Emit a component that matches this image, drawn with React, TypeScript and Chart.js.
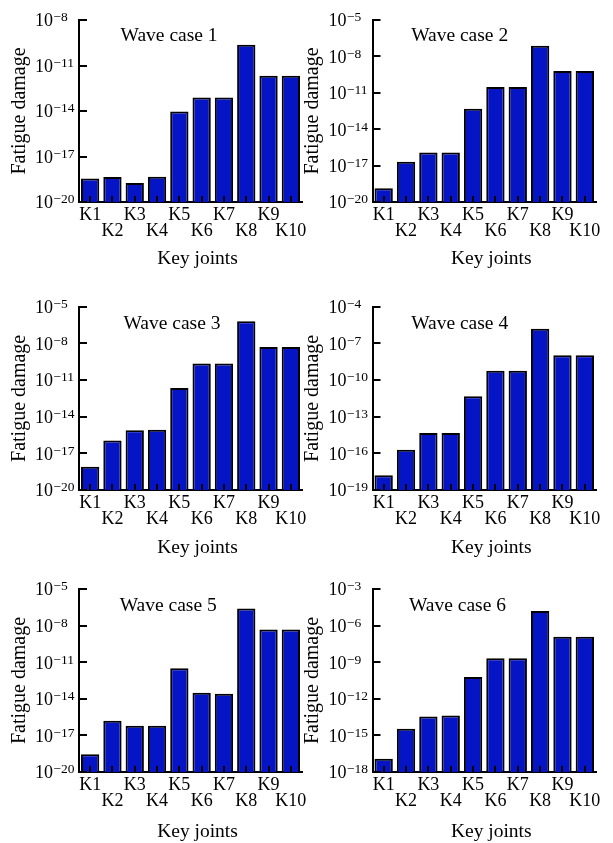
import React, { useEffect, useRef } from 'react';
import { Chart, registerables } from 'chart.js';
Chart.register(...registerables);

const joints = ['K1', 'K2', 'K3', 'K4', 'K5', 'K6', 'K7', 'K8', 'K9', 'K10'];
const caseNames = ['Wave case 1', 'Wave case 2', 'Wave case 3', 'Wave case 4', 'Wave case 5', 'Wave case 6'];
const xTitle = 'Key joints';
const yTitle = 'Fatigue damage';

const case1 = [3.6e-19, 4.5e-19, 1.8e-19, 4.7e-19, 9.1e-15, 7.9e-14, 7.9e-14, 2.3e-10, 2.1e-12, 2.1e-12];
const case2 = [1.35e-19, 2.1e-17, 1.2e-16, 1.2e-16, 4.9e-13, 3.0e-11, 3.0e-11, 7.6e-8, 6.3e-10, 6.3e-10];
const case3 = [8.1e-19, 1.1e-16, 7.6e-16, 8.7e-16, 2.2e-12, 2.2e-10, 2.3e-10, 6.3e-7, 5.0e-9, 5.0e-9];
const case4 = [1.6e-18, 2.0e-16, 4.6e-15, 4.6e-15, 4.6e-12, 5.8e-10, 5.8e-10, 1.6e-6, 1.05e-8, 1.05e-8];
const case5 = [2.8e-19, 1.6e-16, 6.3e-17, 6.3e-17, 3.2e-12, 3.2e-14, 2.6e-14, 2.5e-7, 4.9e-9, 4.9e-9];
const case6 = [1.2e-17, 3.5e-15, 3.6e-14, 4.2e-14, 6.2e-11, 2.1e-9, 2.1e-9, 1.6e-5, 1.2e-7, 1.2e-7];
const allCases = [case1, case2, case3, case4, case5, case6];

// y-axis tick exponents (every third decade)
const yTicks1 = [-20, -17, -14, -11, -8];
const yTicks2 = [-20, -17, -14, -11, -8, -5];
const yTicks3 = [-20, -17, -14, -11, -8, -5];
const yTicks4 = [-19, -16, -13, -10, -7, -4];
const yTicks5 = [-20, -17, -14, -11, -8, -5];
const yTicks6 = [-18, -15, -12, -9, -6, -3];
const allTicks = [yTicks1, yTicks2, yTicks3, yTicks4, yTicks5, yTicks6];

const FONT = "'Liberation Serif', 'Times New Roman', serif";
const BAR_COLOR = '#0514c4';

// layout: canvas rect on page and plot box inside the canvas
const cols = [
  { x: 0, w: 313, left: 79, right: 302, yTitleC: 20, labRel: [0.404, 0.417, 0.40] },
  { x: 300, w: 313, left: 72.5, right: 296, yTitleC: 13, labRel: [0.39, 0.39, 0.38] },
];
const rows = [
  { y: 0, h: 280, top: 20, bottom: 202, xTitleBase: 61.5, labBase: 20.7 },
  { y: 280, h: 280, top: 26.7, bottom: 210, xTitleBase: 63, labBase: 22.6 },
  { y: 560, h: 283, top: 29, bottom: 212, xTitleBase: 64.5, labBase: 22 },
];

const decorPlugin = {
  id: 'panelDecor',
  afterDatasetsDraw(chart: any, _args: any, opts: any) {
    const { ctx, chartArea } = chart;
    const xs = chart.scales.x;
    const ys = chart.scales.y;
    ctx.save();
    // inward tick marks
    ctx.strokeStyle = '#000';
    ctx.lineWidth = 2;
    ctx.beginPath();
    for (let i = 0; i < xs.ticks.length; i++) {
      const px = Math.round(xs.getPixelForTick(i));
      ctx.moveTo(px, chartArea.bottom);
      ctx.lineTo(px, chartArea.bottom - 6);
    }
    for (const t of ys.ticks) {
      const py = Math.round(ys.getPixelForValue(t.value));
      ctx.moveTo(chartArea.left, py);
      ctx.lineTo(chartArea.left + 8, py);
    }
    ctx.stroke();
    ctx.fillStyle = '#000';
    ctx.textBaseline = 'alphabetic';
    // y tick labels with superscript exponents
    ctx.textAlign = 'left';
    for (const t of ys.ticks) {
      const py = ys.getPixelForValue(t.value);
      const e = Math.round(Math.log10(t.value));
      const base = py + 6.3;
      const x0 = chartArea.left - 44;
      ctx.font = `18px ${FONT}`;
      ctx.fillText('10', x0, base);
      const w10 = ctx.measureText('10').width;
      ctx.font = `13.5px ${FONT}`;
      ctx.fillText((e < 0 ? '\u2212' : '') + Math.abs(e), x0 + w10 + 0.5, base - 5);
    }
    // panel label
    ctx.textAlign = 'center';
    ctx.font = `19.5px ${FONT}`;
    ctx.fillText(opts.label, chartArea.left + opts.rel * (chartArea.right - chartArea.left), chartArea.top + opts.base);
    // x axis title
    ctx.fillText(xTitle, (chartArea.left + chartArea.right) / 2 + 7, chartArea.bottom + opts.xBase);
    ctx.restore();
  },
};

function Panel({ idx }: { idx: number }) {
  const ref = useRef<HTMLCanvasElement>(null);
  const col = cols[idx % 2];
  const rIdx = Math.floor(idx / 2);
  const row = rows[rIdx];
  useEffect(() => {
    const exps = allTicks[idx];
    const titleLH = 24;
    const chart = new Chart(ref.current as HTMLCanvasElement, {
      type: 'bar',
      data: {
        labels: joints.map((k, i) => (i % 2 === 0 ? [k, ''] : ['', k])),
        datasets: [
          {
            data: allCases[idx],
            backgroundColor: BAR_COLOR,
            borderColor: '#000',
            borderWidth: 2,
            borderSkipped: 'start',
            categoryPercentage: 1,
            barPercentage: 0.82,
          },
        ],
      },
      options: {
        animation: false,
        responsive: false,
        devicePixelRatio: 1,
        layout: {
          padding: { left: 0, top: row.top, right: col.w - col.right, bottom: 0 },
        },
        plugins: {
          legend: { display: false },
          tooltip: { enabled: false },
          panelDecor: {
            label: caseNames[idx],
            rel: col.labRel[rIdx],
            base: row.labBase,
            xBase: row.xTitleBase,
          },
        } as any,
        scales: {
          x: {
            grid: { display: false, drawTicks: false },
            border: { display: true, color: '#000', width: 2 },
            ticks: {
              autoSkip: false,
              maxRotation: 0,
              minRotation: 0,
              padding: 5.5,
              color: '#000',
              font: { family: FONT, size: 18, lineHeight: '16px' },
            },
            title: { display: false },
            afterFit: (s: any) => {
              s.height = row.h - row.bottom;
            },
          },
          y: {
            type: 'logarithmic',
            min: Math.pow(10, exps[0]),
            max: Math.pow(10, exps[exps.length - 1]),
            grid: { display: false, drawTicks: false },
            border: { display: true, color: '#000', width: 2 },
            afterBuildTicks: (s: any) => {
              s.ticks = exps.map((e) => ({ value: Math.pow(10, e) }));
            },
            ticks: { display: false },
            title: {
              display: true,
              text: yTitle,
              color: '#000',
              font: { family: FONT, size: 20, lineHeight: 1.2 },
              padding: { top: col.yTitleC - titleLH / 2, bottom: 0 },
            },
            afterFit: (s: any) => {
              s.width = col.left;
            },
          },
        },
      },
      plugins: [decorPlugin],
    });
    return () => chart.destroy();
  }, [idx]);
  return (
    <canvas
      ref={ref}
      width={col.w}
      height={row.h}
      style={{ position: 'absolute', left: col.x, top: row.y, width: col.w, height: row.h }}
    />
  );
}

export default function App() {
  return (
    <div style={{ position: 'absolute', left: 0, top: 0, width: 613, height: 843, background: '#fff' }}>
      {[0, 1, 2, 3, 4, 5].map((i) => (
        <Panel key={i} idx={i} />
      ))}
    </div>
  );
}
